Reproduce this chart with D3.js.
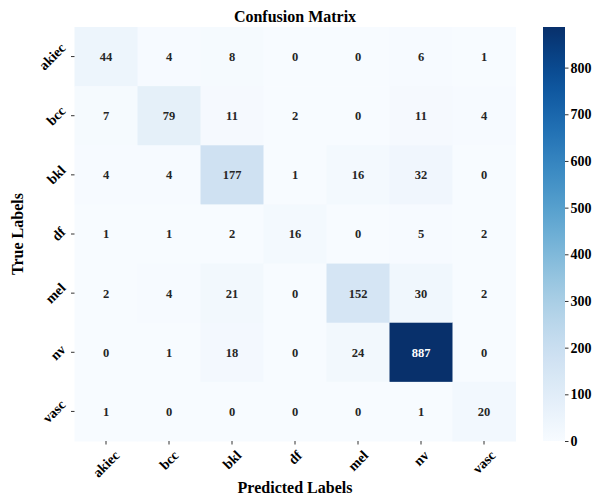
<!DOCTYPE html>
<html>
<head>
<meta charset="utf-8">
<script src="https://cdn.jsdelivr.net/npm/d3@7"></script>
<style>
  body { margin: 0; background: #fff; }
  text { font-family: "Liberation Serif", "Times New Roman", serif; font-weight: bold; }
</style>
</head>
<body>
<svg id="chart" width="602" height="497"></svg>
<script>
const labels = ["akiec", "bcc", "bkl", "df", "mel", "nv", "vasc"];
const matrix = [
    [44, 4, 8, 0, 0, 6, 1],
    [7, 79, 11, 2, 0, 11, 4],
    [4, 4, 177, 1, 16, 32, 0],
    [1, 1, 2, 16, 0, 5, 2],
    [2, 4, 21, 0, 152, 30, 2],
    [0, 1, 18, 0, 24, 887, 0],
    [1, 0, 0, 0, 0, 1, 20]
];
const barTicks = [0, 100, 200, 300, 400, 500, 600, 700, 800];

const svg = d3.select("#chart");
const padL = 74.5, padR = 515.5, padT = 27, padB = 441;

const x = d3.scaleBand().domain(labels).range([padL, padR]);
const y = d3.scaleBand().domain(labels).range([padT, padB]);
const vmax = d3.max(matrix.flat());
const color = d3.scaleSequential(d3.interpolateBlues).domain([0, vmax]);

const cells = [];
matrix.forEach((row, i) => row.forEach((v, j) => cells.push({ t: labels[i], p: labels[j], v })));

svg.append("g").selectAll("rect")
    .data(cells)
    .join("rect")
    .attr("x", d => x(d.p))
    .attr("y", d => y(d.t))
    .attr("width", x.bandwidth() + 0.5)
    .attr("height", y.bandwidth() + 0.5)
    .attr("fill", d => color(d.v));

svg.append("g").selectAll("text")
    .data(cells)
    .join("text")
    .attr("x", d => x(d.p) + x.bandwidth() / 2)
    .attr("y", d => y(d.t) + y.bandwidth() / 2)
    .attr("dy", "0.35em")
    .attr("text-anchor", "middle")
    .attr("font-size", 12.5)
    .attr("fill", d => d3.hsl(color(d.v)).l < 0.45 ? "#fff" : "#262626")
    .text(d => d.v);

// rotated label: bounding box of a -45deg text is square-ish around its centre
function rotatedLabel(g, text) {
    const t = g.append("text")
        .attr("font-size", 14)
        .attr("text-anchor", "middle")
        .attr("fill", "#000")
        .text(text);
    const b = t.node().getBBox();
    const asc = 14 * 0.68;
    t.attr("dy", asc / 2);
    const half = (b.width + asc) * Math.SQRT1_2 / 2;
    return { t, half };
}

// x axis ticks
const xg = svg.append("g");
labels.forEach(l => {
    const cx = x(l) + x.bandwidth() / 2;
    xg.append("line")
        .attr("x1", cx).attr("x2", cx)
        .attr("y1", padB).attr("y2", padB + 3.5)
        .attr("stroke", "#333");
    const { t, half } = rotatedLabel(xg, l);
    const cyy = padB + 3.5 + 5 + half;
    t.attr("transform", `translate(${cx},${cyy}) rotate(-45)`);
});

// y axis ticks
const yg = svg.append("g");
labels.forEach(l => {
    const cyy = y(l) + y.bandwidth() / 2;
    yg.append("line")
        .attr("x1", padL - 3.5).attr("x2", padL)
        .attr("y1", cyy).attr("y2", cyy)
        .attr("stroke", "#333");
    const { t, half } = rotatedLabel(yg, l);
    const cx = padL - 3.5 - 4.5 - half;
    t.attr("transform", `translate(${cx},${cyy}) rotate(-45)`);
});

// titles
svg.append("text")
    .attr("x", (padL + padR) / 2)
    .attr("y", 22)
    .attr("text-anchor", "middle")
    .attr("font-size", 16)
    .text("Confusion Matrix");

svg.append("text")
    .attr("x", (padL + padR) / 2)
    .attr("y", 493)
    .attr("text-anchor", "middle")
    .attr("font-size", 16)
    .text("Predicted Labels");

svg.append("text")
    .attr("transform", `translate(23,${(padT + padB) / 2}) rotate(-90)`)
    .attr("text-anchor", "middle")
    .attr("font-size", 16)
    .text("True Labels");

// colorbar
const cbX = 543, cbW = 22;
const cy = d3.scaleLinear().domain([0, vmax]).range([padB, padT]);
const defs = svg.append("defs");
const grad = defs.append("linearGradient")
    .attr("id", "cbgrad")
    .attr("x1", 0).attr("y1", 1).attr("x2", 0).attr("y2", 0);
d3.range(0, 1.0001, 0.05).forEach(s => {
    grad.append("stop")
        .attr("offset", s)
        .attr("stop-color", color(s * vmax));
});
svg.append("rect")
    .attr("x", cbX).attr("y", padT)
    .attr("width", cbW).attr("height", padB - padT)
    .attr("fill", "url(#cbgrad)");

const cAxis = svg.append("g")
    .attr("transform", `translate(${cbX + cbW},0)`)
    .call(d3.axisRight(cy).tickValues(barTicks).tickSize(3.5).tickPadding(2));
cAxis.select(".domain").remove();
cAxis.selectAll(".tick line").attr("stroke", "#333");
cAxis.selectAll(".tick text").attr("font-size", 14).attr("fill", "#000");
</script>
</body>
</html>
